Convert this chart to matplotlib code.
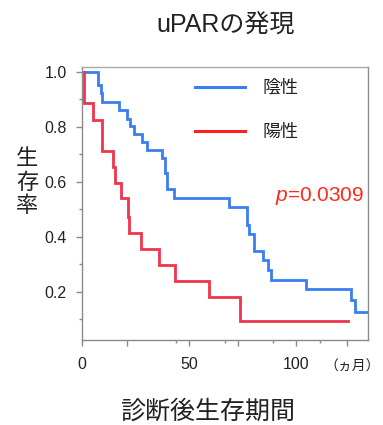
import matplotlib
matplotlib.use("Agg")
import matplotlib.pyplot as plt
from matplotlib.lines import Line2D

plt.rcParams['font.family'] = ['Liberation Sans', 'Noto Sans CJK JP', 'DejaVu Sans']
plt.rcParams['mathtext.fontset'] = 'custom'
plt.rcParams['mathtext.it'] = 'Liberation Sans:italic'
plt.rcParams['mathtext.rm'] = 'Liberation Sans'

# ---- data ----
times_neg = [0, 7.5, 8.7, 9.5, 17.4, 21.2, 22.4, 24.5, 27.9, 30.5, 37.2, 38.8, 39.9,
             43.0, 68.8, 77.2, 78.0, 80.4, 84.7, 87.1, 88.2, 104.7, 125.5, 127.6, 133.6]
surv_neg = [1.0, 0.953, 0.922, 0.892, 0.86, 0.83, 0.805, 0.775, 0.744, 0.716, 0.686, 0.631,
            0.575, 0.54, 0.51, 0.444, 0.411, 0.347, 0.316, 0.28, 0.244, 0.21, 0.171, 0.128, 0.128]

times_pos = [0, 0.9, 5.3, 9.2, 9.5, 14.6, 15.4, 18.1, 21.6, 22.1, 27.4, 36.1, 43.5,
             59.5, 73.8, 124.2]
surv_pos = [1.0, 0.886, 0.825, 0.765, 0.714, 0.653, 0.595, 0.54, 0.474, 0.416, 0.356,
            0.298, 0.241, 0.183, 0.095, 0.095]

series_labels = ['陰性', '陽性']
x_major_ticks = [0, 21, 50, 73, 100, 124]
x_major_labels = ['0', '', '50', '', '100', '']
x_minor_ticks = [44, 67, 89, 111]
y_major_ticks = [0.2, 0.4, 0.6, 0.8, 1.0]
y_major_labels = ['0.2', '0.4', '0.6', '0.8', '1.0']
y_minor_ticks = [0.1, 0.3, 0.5, 0.7, 0.9]
p_text = r'$p$=0.0309'

title = 'uPARの発現'
ylabel = '生\n存\n率'
xlabel = '診断後生存期間'
unit = '（ヵ月）'

# ---- figure ----
W, H = 383, 425
fig = plt.figure(figsize=(W / 100, H / 100), dpi=100)
ax = fig.add_axes([82 / W, (H - 340) / H, (368 - 82) / W, (340 - 67) / H])

blue = '#3a7ff0'
red = '#f0344c'
ax.step(times_neg, surv_neg, where='post', color=blue, lw=2.0, solid_joinstyle='miter')
ax.step(times_pos, surv_pos, where='post', color=red, lw=2.0, solid_joinstyle='miter')

ax.set_xlim(0, 133.6)
ax.set_ylim(0.025, 1.018)

spine_c = '#8a8a8a'
for s in ax.spines.values():
    s.set_color(spine_c)
    s.set_linewidth(1.0)
ax.spines['top'].set_color('#aaaaaa')

ax.set_xticks(x_major_ticks)
ax.set_xticklabels(x_major_labels)
ax.set_xticks(x_minor_ticks, minor=True)
ax.set_yticks(y_major_ticks)
ax.set_yticklabels(y_major_labels)
ax.set_yticks(y_minor_ticks, minor=True)
ax.tick_params(axis='both', which='major', direction='out', length=4, width=1.0,
               color=spine_c, labelsize=11.5, labelcolor='#222222')
ax.tick_params(axis='both', which='minor', direction='out', length=2, width=1.0,
               color=spine_c)
ax.tick_params(axis='x', which='major', pad=8)
ax.tick_params(axis='y', which='major', pad=7)

handles = [Line2D([], [], color='#3a7ff0', lw=2.2), Line2D([], [], color='#ff2020', lw=2.2)]
ax.legend(handles, series_labels, loc='upper left', bbox_to_anchor=(0.395, 0.952),
          frameon=False, fontsize=13, handlelength=2.77, handletextpad=0.95,
          labelspacing=1.48, borderpad=0, borderaxespad=0, labelcolor='#222222')

fig.text(275 / W, 1 - 196 / H, p_text, color='#ff2a1a', fontsize=15, ha='left', va='center')

fig.text(226 / W, 1 - 25 / H, title, fontsize=18, ha='center', va='center', color='#222222')
fig.text(27 / W, 1 - 183 / H, ylabel, fontsize=16, ha='center', va='center',
         linespacing=1.15, color='#222222')
fig.text(208 / W, 1 - 412 / H, xlabel, fontsize=18, ha='center', va='center', color='#222222')
fig.text(380 / W, 1 - 367 / H, unit, fontsize=10, ha='right', va='center', color='#222222')

fig.savefig('out.png', dpi=100)
